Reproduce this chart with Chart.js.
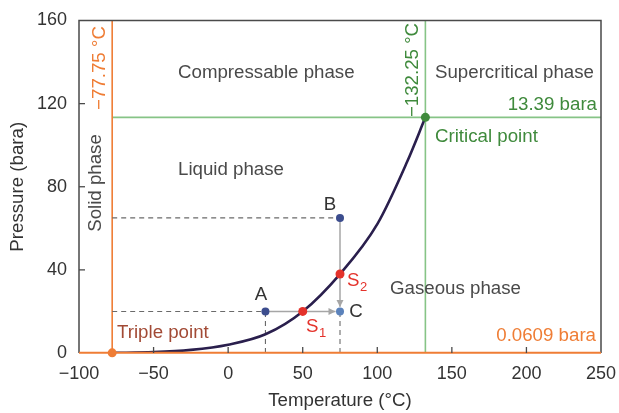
<!DOCTYPE html>
<html><head><meta charset="utf-8">
<script src="https://cdn.jsdelivr.net/npm/chart.js@4.4.0/dist/chart.umd.min.js"></script>
<style>html,body{margin:0;padding:0;background:#fff}#wrap{width:619px;height:413px}</style>
</head><body><div id="wrap"><canvas id="c" width="619" height="413"></canvas></div>
<script>
const xTicks = [-100, -50, 0, 50, 100, 150, 200, 250];
const yTicks = [0, 40, 80, 120, 160];
const curveT = [-77.75, -50, -25, 0, 25, 50, 75, 100, 120, 132.25];
const curveP = [0.06, 0.4, 1.5, 4.0, 9.0, 20, 38, 62, 92, 113.39];
const tripleT = -77.75, tripleP = 0.0609;
const critT = 132.25, critP = 113.39;
const stateNames = ['A', 'B', 'C'];
const stateT = [25, 75, 75];
const stateP = [20, 65, 20];
const satNames = ['S1', 'S2'];
const satT = [50, 75];
const satP = [20, 38];

const FONT = '"Liberation Sans", Arial, sans-serif';
const FS = 18.7;
const curve = curveT.map((t, i) => ({x: t, y: curveP[i]}));

function line(pts, color, width, dash) {
  return {type: 'scatter', data: pts, showLine: true, borderColor: color, borderWidth: width,
    borderDash: dash || [], pointRadius: 0, pointHoverRadius: 0, fill: false, tension: 0};
}
function pts(arr, color, r) {
  return {type: 'scatter', data: arr, showLine: false, pointRadius: r, pointBackgroundColor: color,
    pointBorderColor: color, pointBorderWidth: 0, pointHoverRadius: r};
}

const datasets = [
  pts([{x: critT, y: critP}], '#3f8a3c', 4.5),
  pts([{x: stateT[0], y: stateP[0]}, {x: stateT[1], y: stateP[1]}], '#3c4d8e', 4),
  pts([{x: stateT[2], y: stateP[2]}], '#5b82bb', 4),
  pts(satT.map((t, i) => ({x: t, y: satP[i]})), '#e4322b', 4.5),
  Object.assign(line(curve, '#2a1f4d', 2.6), {cubicInterpolationMode: 'monotone'}),
  line([{x: stateT[0], y: stateP[0]}, {x: stateT[2] - 3, y: stateP[2]}], '#a6a6a6', 1.5),
  line([{x: stateT[1], y: stateP[1]}, {x: stateT[2], y: stateP[2] + 2.3}], '#a6a6a6', 1.5),
  line([{x: tripleT, y: stateP[1]}, {x: stateT[1], y: stateP[1]}], '#6a6a6a', 1.1, [5, 4]),
  line([{x: tripleT, y: stateP[0]}, {x: stateT[0], y: stateP[0]}], '#6a6a6a', 1.1, [5, 4]),
  line([{x: stateT[0], y: 0}, {x: stateT[0], y: stateP[0]}], '#6a6a6a', 1.1, [5, 4]),
  line([{x: stateT[2], y: 0}, {x: stateT[2], y: stateP[2]}], '#6a6a6a', 1.1, [5, 4]),
  line([{x: tripleT, y: 0}, {x: tripleT, y: 160}], '#ef7d35', 1.6),
  line([{x: critT, y: 0}, {x: critT, y: 160}], '#86c486', 1.6),
  line([{x: tripleT, y: critP}, {x: 250, y: critP}], '#86c486', 1.6),
];

const deco = {
  id: 'deco',
  beforeDatasetsDraw(chart) {
    const ctx = chart.ctx, xs = chart.scales.x, ys = chart.scales.y;
    ctx.save();
    ctx.fillStyle = '#a6a6a6';
    let tx = xs.getPixelForValue(stateT[2]) - 4.5, ty = ys.getPixelForValue(stateP[2]);
    ctx.beginPath(); ctx.moveTo(tx, ty); ctx.lineTo(tx - 7, ty - 3.5); ctx.lineTo(tx - 7, ty + 3.5); ctx.closePath(); ctx.fill();
    tx = xs.getPixelForValue(stateT[2]); ty = ys.getPixelForValue(stateP[2]) - 4.5;
    ctx.beginPath(); ctx.moveTo(tx, ty); ctx.lineTo(tx - 3.5, ty - 7); ctx.lineTo(tx + 3.5, ty - 7); ctx.closePath(); ctx.fill();
    ctx.restore();
  },
  afterDraw(chart) {
    const ctx = chart.ctx, a = chart.chartArea, xs = chart.scales.x, ys = chart.scales.y;
    ctx.save();
    ctx.strokeStyle = '#4a4a4a'; ctx.lineWidth = 1.5;
    ctx.beginPath(); ctx.moveTo(a.left, a.bottom); ctx.lineTo(a.left, a.top); ctx.lineTo(a.right, a.top); ctx.lineTo(a.right, a.bottom); ctx.stroke();
    ctx.strokeStyle = '#ef7d35'; ctx.lineWidth = 2;
    const yb = ys.getPixelForValue(tripleP);
    ctx.beginPath(); ctx.moveTo(a.left, yb); ctx.lineTo(a.right, yb); ctx.stroke();
    ctx.strokeStyle = '#4a4a4a'; ctx.lineWidth = 1.3;
    xTicks.slice(1, -1).forEach(v => { const p = xs.getPixelForValue(v); ctx.beginPath(); ctx.moveTo(p, a.bottom); ctx.lineTo(p, a.bottom - 6); ctx.stroke(); });
    yTicks.slice(1, -1).forEach(v => { const p = ys.getPixelForValue(v); ctx.beginPath(); ctx.moveTo(a.left, p); ctx.lineTo(a.left + 6, p); ctx.stroke(); });
    ctx.fillStyle = '#ef7d35';
    ctx.beginPath(); ctx.arc(xs.getPixelForValue(tripleT), yb, 4.5, 0, Math.PI * 2); ctx.fill();
    function txt(s, x, y, color, size, align, rot) {
      ctx.save(); ctx.translate(x, y); if (rot) ctx.rotate(rot);
      ctx.font = size + 'px ' + FONT; ctx.fillStyle = color; ctx.textAlign = align || 'left'; ctx.textBaseline = 'middle';
      ctx.fillText(s, 0, 0); ctx.restore();
    }
    function sub(s, n, x, y, color) {
      ctx.save(); ctx.font = FS + 'px ' + FONT; ctx.fillStyle = color; ctx.textBaseline = 'middle'; ctx.textAlign = 'left';
      ctx.fillText(s, x, y); const w = ctx.measureText(s).width;
      ctx.font = '13px ' + FONT; ctx.fillText(n, x + w + 0.5, y + 6); ctx.restore();
    }
    const G = '#4a4a4a';
    txt('Compressable phase', 178, 73, G, FS);
    txt('Supercritical phase', 435, 73, G, FS);
    txt('13.39 bara', 597, 105, '#3f8a3c', FS, 'right');
    txt('Critical point', 435, 137, '#3f8a3c', FS);
    txt('Liquid phase', 178, 170, G, FS);
    txt('Gaseous phase', 390, 289, G, FS);
    txt('0.0609 bara', 596, 336, '#ef7d35', FS, 'right');
    txt('Triple point', 117, 333, '#a24a35', FS);
    txt('Solid phase', 96, 183, G, FS, 'center', -Math.PI / 2);
    txt('\u221277.75 \u00b0C', 100, 68, '#ef7d35', FS, 'center', -Math.PI / 2);
    txt('\u2212132.25 \u00b0C', 413, 70, '#3f8a3c', FS, 'center', -Math.PI / 2);
    txt('A', 261, 295, '#333', FS, 'center');
    txt('B', 330, 205, '#333', FS, 'center');
    txt('C', 356, 312, '#333', FS, 'center');
    sub('S', '1', 306, 327, '#e4322b');
    sub('S', '2', 347, 281, '#e4322b');
    txt('Temperature (\u00b0C)', (a.left + a.right) / 2, 401, '#333', FS, 'center');
    txt('Pressure (bara)', 18, (a.top + a.bottom) / 2, '#333', FS, 'center', -Math.PI / 2);
    ctx.restore();
  }
};

new Chart(document.getElementById('c'), {
  type: 'scatter',
  data: {datasets},
  options: {
    responsive: false, animation: false, devicePixelRatio: 1,
    layout: {padding: {top: 20.5, right: 18, left: 0, bottom: 0}},
    plugins: {legend: {display: false}, tooltip: {enabled: false}},
    scales: {
      x: {type: 'linear', min: -100, max: 250,
        afterBuildTicks: s => { s.ticks = xTicks.map(v => ({value: v})); },
        afterFit: s => { s.height = 60; s.paddingLeft = 0; s.paddingRight = 0; },
        grid: {display: false, drawTicks: false}, border: {display: false},
        ticks: {color: '#333', font: {family: FONT, size: 18}, padding: 10,
          callback: v => (v < 0 ? '\u2212' + Math.abs(v) : '' + v), maxRotation: 0}},
      y: {type: 'linear', min: 0, max: 160,
        afterBuildTicks: s => { s.ticks = yTicks.map(v => ({value: v})); },
        afterFit: s => { s.width = 79; s.paddingTop = 0; s.paddingBottom = 0; },
        grid: {display: false, drawTicks: false}, border: {display: false},
        ticks: {color: '#333', font: {family: FONT, size: 18}, padding: 12}}
    }
  },
  plugins: [deco]
});
</script></body></html>
